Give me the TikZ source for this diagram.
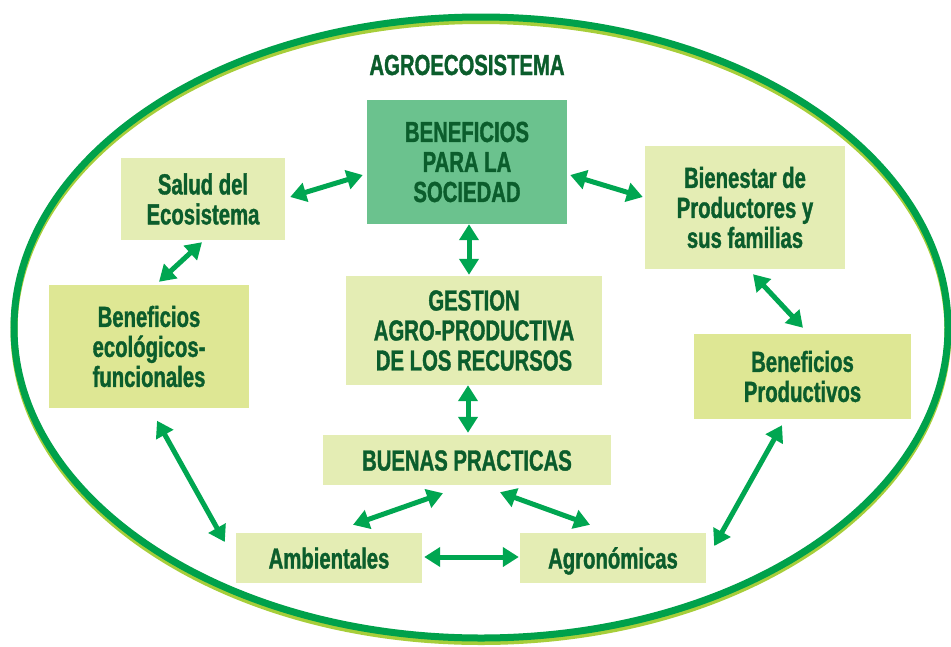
\documentclass[tikz,border=0pt]{standalone}
\usepackage{fontspec}
\setmainfont{Liberation Sans}[FakeStretch=0.70, BoldFeatures={FakeBold=1.2}]
\usetikzlibrary{arrows.meta,calc}
\definecolor{textgreen}{HTML}{0B5D2C}
\definecolor{arrowgreen}{HTML}{00A651}
\definecolor{ringgreen}{HTML}{00A14B}
\definecolor{ringlime}{HTML}{A7CE3A}
\definecolor{socfill}{HTML}{6BC28E}
\definecolor{lightfill}{HTML}{E4EDB4}
\definecolor{midfill}{HTML}{DEE794}
\tikzset{
  box/.style={fill=lightfill, draw=none, inner sep=0pt, align=center,
    text=textgreen, font=\fontsize{29}{30}\selectfont\bfseries},
  onebox/.style={box, text height=21pt, text depth=0pt},
  biarrow/.style={draw=arrowgreen, line width=5pt,
    {Triangle[length=16pt,width=19pt]}-{Triangle[length=16pt,width=19pt]}},
  titletext/.style={text=textgreen, font=\fontsize{29}{30}\selectfont\bfseries, inner sep=0pt}
}
\begin{document}
\begin{tikzpicture}[x=1pt,y=-1pt]
\useasboundingbox (0,0) rectangle (951,646);
\fill[white] (0,0) rectangle (951,646);
% ring
\draw[ringlime, line width=7pt] (481,331) ellipse [x radius=467, y radius=310.5];
\draw[ringgreen, line width=7pt] (481,327.5) ellipse [x radius=467, y radius=310.5];
% title
\node[titletext, anchor=base] (title) at (467,75) {AGROECOSISTEMA};
% boxes
\node[box, fill=socfill, minimum width=200pt, minimum height=124pt] (soc) at (467,162) {BENEFICIOS\\PARA LA\\SOCIEDAD};
\node[box, minimum width=164pt, minimum height=82pt] (salud) at (203,199) {Salud del\\Ecosistema};
\node[box, minimum width=200pt, minimum height=123pt] (bien) at (745,207.5) {Bienestar de\\Productores y\\sus familias};
\node[box, fill=midfill, minimum width=200pt, minimum height=123pt] (eco) at (149,346.5) {Beneficios\\ecológicos-\\funcionales};
\node[box, minimum width=256pt, minimum height=109pt] (gest) at (474,330.5) {GESTION\\AGRO-PRODUCTIVA\\DE LOS RECURSOS};
\node[box, fill=midfill, minimum width=217pt, minimum height=85pt] (prod) at (802.5,376.5) {Beneficios\\Productivos};
\node[onebox, minimum width=288pt, minimum height=50pt] (buenas) at (467,460) {BUENAS PRACTICAS};
\node[onebox, minimum width=186pt, minimum height=50pt] (amb) at (329,558) {Ambientales};
\node[onebox, minimum width=186pt, minimum height=50pt] (agro) at (613,558) {Agronómicas};
% arrows
\draw[biarrow] ($(salud.east)+(5,-2)$) -- ($(soc.west)+(-4,13)$);
\draw[biarrow] ($(soc.east)+(3,13)$) -- ($(bien.west)+(-2,-10.5)$);
\draw[biarrow] ($(soc.south)+(2,0)$) -- ($(gest.north)+(-5,-1)$);
\draw[biarrow] ($(salud.south)+(-1,2)$) -- ($(eco.north)+(10,-3)$);
\draw[biarrow] ($(bien.south)+(8,5)$) -- ($(prod.north)+(0.5,-6)$);
\draw[biarrow] ($(gest.south)+(-6,0)$) -- ($(buenas.north)+(1,-2)$);
\draw[biarrow] ($(buenas.south)+(-24,8)$) -- ($(amb.north)+(24,-8)$);
\draw[biarrow] ($(buenas.south)+(33,7)$) -- ($(agro.north)+(-23,-8)$);
\draw[biarrow] ($(amb.east)+(2,-1)$) -- ($(agro.west)+(-1,-1)$);
\draw[biarrow] ($(eco.south)+(8,12.5)$) -- ($(amb.west)+(-11,-16)$);
\draw[biarrow] ($(prod.south)+(-20.5,6)$) -- ($(agro.east)+(8,-12)$);
\end{tikzpicture}
\end{document}
